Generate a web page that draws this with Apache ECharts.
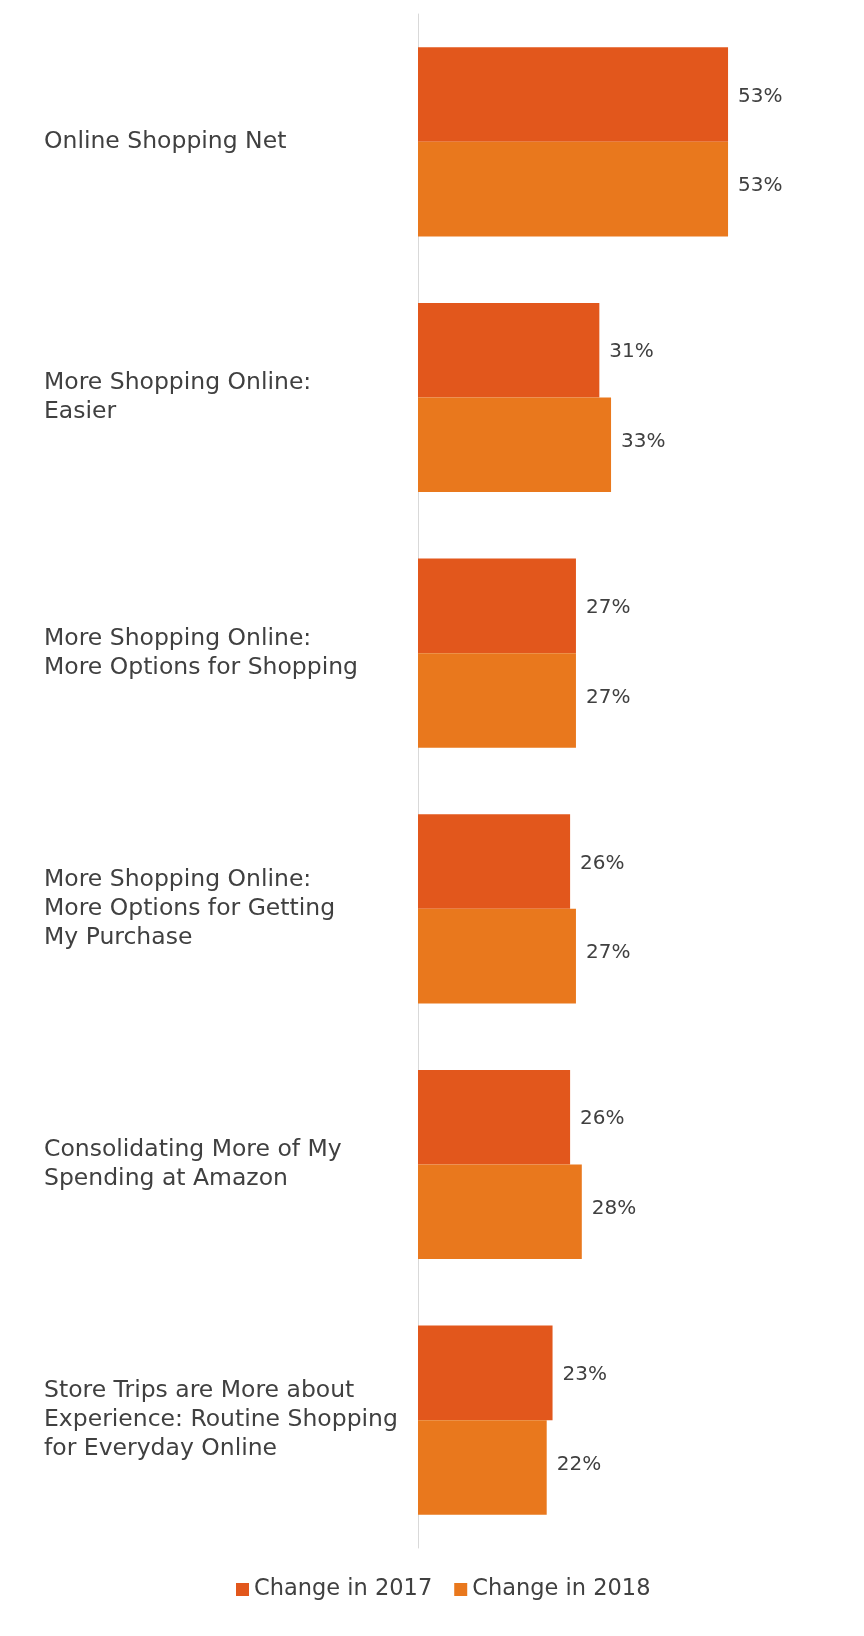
<!DOCTYPE html>
<html>
<head>
<meta charset="utf-8">
<script src="https://cdn.jsdelivr.net/npm/echarts@6/dist/echarts.min.js"></script>
<style>
html,body{margin:0;padding:0;background:#fff;}
#chart{width:864px;height:1636px;}
</style>
</head>
<body>
<div id="chart"></div>
<script>
const categories = [
  "Online Shopping Net",
  "More Shopping Online:\nEasier",
  "More Shopping Online:\nMore Options for Shopping",
  "More Shopping Online:\nMore Options for Getting\nMy Purchase",
  "Consolidating More of My\nSpending at Amazon",
  "Store Trips are More about\nExperience: Routine Shopping\nfor Everyday Online"
];
const seriesNames = ["Change in 2017", "Change in 2018"];
const values2017 = [53, 31, 27, 26, 26, 23];
const values2018 = [53, 33, 27, 27, 28, 22];

const FONT = "'DejaVu Sans', sans-serif";
const TEXT = '#404040';
const colors = ['#E2571C', '#E9781D'];

const chart = echarts.init(document.getElementById('chart'));
chart.setOption({
  animation: false,
  backgroundColor: '#ffffff',
  textStyle: { fontFamily: FONT },
  legend: {
    data: seriesNames,
    bottom: 30,
    left: 231,
    icon: 'rect',
    itemWidth: 13,
    itemHeight: 13,
    itemGap: 22,
    textStyle: { fontFamily: FONT, fontSize: 22.5, color: TEXT }
  },
  grid: { left: 418, right: 36.5, top: 14, bottom: 88, containLabel: false },
  xAxis: {
    type: 'value',
    min: 0,
    max: 70,
    show: false
  },
  yAxis: {
    type: 'category',
    data: categories,
    inverse: true,
    axisLine: { show: true, lineStyle: { color: '#d9d9d9', width: 1 } },
    axisTick: { show: false },
    axisLabel: {
      align: 'left',
      margin: 374,
      fontFamily: FONT,
      fontSize: 23.5,
      lineHeight: 29,
      color: TEXT
    }
  },
  series: [
    {
      name: seriesNames[0],
      type: 'bar',
      data: values2017,
      barGap: '0%',
      barCategoryGap: '26%',
      itemStyle: { color: colors[0] },
      label: {
        show: true, position: 'right', distance: 10, offset: [0, 2],
        formatter: p => p.value + '%',
        fontFamily: FONT, fontSize: 20, color: TEXT
      }
    },
    {
      name: seriesNames[1],
      type: 'bar',
      data: values2018,
      barGap: '0%',
      barCategoryGap: '26%',
      itemStyle: { color: colors[1] },
      label: {
        show: true, position: 'right', distance: 10, offset: [0, -3],
        formatter: p => p.value + '%',
        fontFamily: FONT, fontSize: 20, color: TEXT
      }
    }
  ]
});
</script>
</body>
</html>
